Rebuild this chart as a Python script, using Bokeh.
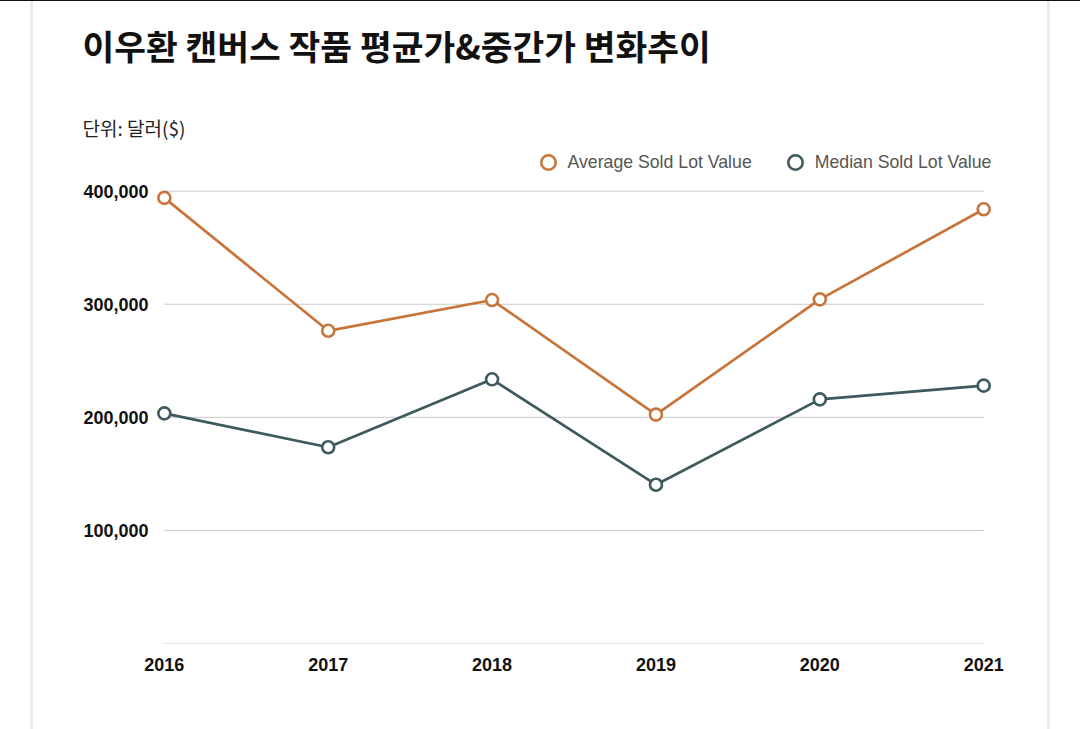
from bokeh.plotting import figure
from bokeh.models import Range1d, FixedTicker, Legend, LegendItem, Title
from bokeh.embed import file_html
from bokeh.resources import INLINE

# ---- data ----
years = [2016, 2017, 2018, 2019, 2020, 2021]
year_labels = ["2016", "2017", "2018", "2019", "2020", "2021"]
average_value = [394000, 276500, 303700, 202400, 304300, 384000]
median_value = [203500, 173500, 233600, 140400, 215900, 228000]
y_ticks = [0, 100000, 200000, 300000, 400000]
y_tick_labels = ["", "100,000", "200,000", "300,000", "400,000"]
series_names = ["Average Sold Lot Value", "Median Sold Lot Value"]
title_text = "이우환 캔버스 작품 평균가&중간가 변화추이"
subtitle_text = "단위: 달러($)"

ORANGE = "#c8743a"
DARK = "#3f5a5e"
GRID = "#c9c9c9"
LATIN = "Liberation Sans"
KR = "Noto Sans CJK KR"

page_bg = ("linear-gradient(to bottom, #111 0px, #111 1px, rgba(0,0,0,0) 1px), "
           "linear-gradient(to right, #fff 0px, #fff 30px, #ececec 30px, #ececec 33px, "
           "#fff 33px, #fff 1047px, #ececec 1047px, #ececec 1050px, #fff 1050px)")

p = figure(width=1080, height=729,
           min_border_left=154, min_border_right=85,
           min_border_top=140, min_border_bottom=86,
           x_range=Range1d(2015.94, 2021.072), y_range=Range1d(0, 444770),
           output_backend="svg", toolbar_location=None, title=None,
           styles={"background-image": page_bg})
p.outline_line_color = None
p.background_fill_color = "white"
p.border_fill_alpha = 0
p.xgrid.visible = False
p.ygrid.visible = False

# gridlines restricted to the data's x extent
p.segment(x0=[years[0]] * len(y_ticks), x1=[years[-1]] * len(y_ticks),
          y0=y_ticks, y1=y_ticks, line_color=GRID, line_width=1)

# axes
p.xaxis.ticker = FixedTicker(ticks=years)
p.xaxis.major_label_overrides = {y: l for y, l in zip(years, year_labels)}
p.yaxis.ticker = FixedTicker(ticks=y_ticks)
p.yaxis.major_label_overrides = {t: l for t, l in zip(y_ticks, y_tick_labels)}
for ax in (p.xaxis[0], p.yaxis[0]):
    ax.axis_line_color = None
    ax.major_tick_line_color = None
    ax.minor_tick_line_color = None
    ax.major_tick_out = 0
    ax.major_tick_in = 0
    ax.major_label_text_font = LATIN
    ax.major_label_text_font_size = "18px"
    ax.major_label_text_font_style = "bold"
    ax.major_label_text_color = "#111111"
p.xaxis.major_label_standoff = 14
p.yaxis.major_label_standoff = 6

# series
p.line(years, average_value, line_color=ORANGE, line_width=2.7)
s1 = p.scatter(years, average_value, size=12, fill_color="white",
               line_color=ORANGE, line_width=2.6)
p.line(years, median_value, line_color=DARK, line_width=2.7)
s2 = p.scatter(years, median_value, size=12, fill_color="white",
               line_color=DARK, line_width=2.6)

# legend inside the (tall) frame, near its top right
legend = Legend(items=[LegendItem(label=series_names[0], renderers=[s1]),
                       LegendItem(label=series_names[1], renderers=[s2])],
                orientation="horizontal", location=(375.5, 463),
                glyph_width=36, glyph_height=36, label_standoff=2,
                spacing=25, padding=0, margin=0,
                border_line_color=None, background_fill_alpha=0,
                label_text_font=LATIN, label_text_font_size="17.7px",
                label_text_color="#555555")
p.add_layout(legend, "center")

# header texts: stacked above the frame (first = nearest the frame)
p.add_layout(Title(text=subtitle_text, align="left", offset=82 - 154,
                   text_font=KR, text_font_size="19px", text_font_style="normal",
                   text_color="#222222", standoff=0), "above")
p.add_layout(Title(text=" ", align="left", offset=0, text_font=KR,
                   text_font_size="1px", text_color="white", standoff=39), "above")
p.add_layout(Title(text=title_text, align="left", offset=82 - 154,
                   text_font=KR, text_font_size="34.5px", text_font_style="bold",
                   text_color="#111111", standoff=0), "above")

open("out.html", "w").write(file_html(p, INLINE))
